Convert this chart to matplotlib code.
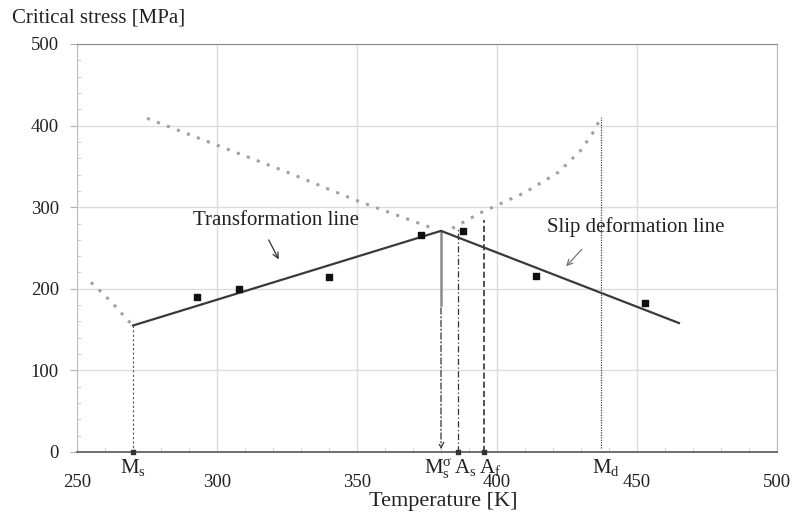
import numpy as np
import matplotlib.pyplot as plt
from matplotlib.transforms import blended_transform_factory

plt.rcParams['font.family'] = ['Liberation Serif', 'DejaVu Serif']
plt.rcParams['mathtext.fontset'] = 'custom'
plt.rcParams['mathtext.rm'] = 'Liberation Serif'
plt.rcParams['mathtext.it'] = 'Liberation Serif:italic'

# measured points
t_meas = [293, 308, 340, 373, 388, 414, 453]
s_meas = [190, 200, 215, 266, 271, 216, 183]

# fitted lines (transformation + slip)
t_line = [270, 380, 465]
s_line = [155, 271, 158]

# dotted guide curves
t_left = [255, 262, 268, 270]
s_left = [208, 185, 162, 155]
t_upper = [275, 300, 325, 350, 378]
s_upper = [409, 376, 343, 308, 273]
t_right = [384, 394, 410, 422, 430, 435, 437]
s_right = [274, 293, 318, 343, 370, 395, 410]

# characteristic temperatures
T_ms, T_msig, T_as, T_af, T_md = 270, 380, 386, 395.5, 437

FS = 15

fig = plt.figure(figsize=(7.94, 5.13), dpi=100)
ax = fig.add_axes([77/794, 61/513, 700/794, 408/513])

ax.set_xlim(250, 500)
ax.set_ylim(0, 500)
ax.set_xticks(np.arange(250, 501, 50))
ax.set_yticks(np.arange(0, 501, 100))
ax.set_xticks(np.arange(250, 501, 10), minor=True)
ax.set_yticks(np.arange(0, 501, 20), minor=True)
ax.grid(True, which='major', color='#dcdcdc', lw=1)
ax.tick_params(which='major', length=0, labelsize=13.5, pad=10, colors='#222222')
ax.tick_params(axis='y', which='major', length=5, color='#b0b0b0', pad=8)
ax.tick_params(axis='x', which='major', pad=16)
ax.tick_params(which='minor', direction='in', length=3, color='#c8c8c8')
for side in ['left', 'right']:
    ax.spines[side].set_color('#bdbdbd')
ax.spines['top'].set_color('#888888')
ax.spines['bottom'].set_color('#555555')
ax.spines['bottom'].set_linewidth(1.2)

# guide curves
dot = dict(color='#a0a0a0', ls=(0, (1, 2.5)), lw=2.2)
ax.plot(t_left, s_left, **dot)
ax.plot(t_upper, s_upper, **dot)
ax.plot(t_right, s_right, **dot)

# main lines and measurements
ax.plot(t_line, s_line, color='#3a3a3a', lw=1.6, zorder=4)
ax.scatter(t_meas, s_meas, marker='s', s=22, color='#111111', zorder=5)

# vertical markers
ax.plot([T_ms, T_ms], [0, s_line[0]], color='#555555', lw=0.8, ls=(0, (2, 2)))
ax.plot([T_msig, T_msig], [180, s_line[1]], color='#8a8a8a', lw=1.8)
ax.annotate('', xy=(T_msig, 0), xytext=(T_msig, 180),
            arrowprops=dict(arrowstyle='->', color='#333333', lw=0.9,
                            ls=(0, (5, 2, 1, 2))))
ax.plot([T_as, T_as], [0, 275], color='#333333', lw=0.9, ls=(0, (5, 2, 1, 2)))
ax.plot([T_af, T_af], [0, 284], color='#222222', lw=1.1, ls=(0, (4, 2)))
ax.plot([T_md, T_md], [5, 410], color='#444444', lw=0.9, ls=(0, (1, 1)))
ax.scatter([T_ms, T_as, T_af], [0, 0, 0], marker='s', s=8, color='#333333', zorder=5, clip_on=False)

# labels under the axis
trans = blended_transform_factory(ax.transData, ax.transAxes)
lab = dict(transform=trans, ha='center', va='top', fontsize=FS, color='#222222')
ax.text(T_ms, -0.012, r'$\mathregular{M_s}$', **lab)
ax.text(T_msig - 1, -0.012, r'$\mathregular{M_s^{\sigma}}$', **lab)
ax.text(T_as + 2.5, -0.012, r'$\mathregular{A_s}$', **lab)
ax.text(T_af + 2, -0.012, r'$\mathregular{A_f}$', **lab)
ax.text(T_md + 2, -0.012, r'$\mathregular{M_d}$', **lab)

# annotations
ax.text(321, 284, 'Transformation line', ha='center', va='center', fontsize=FS, color='#222222')
ax.annotate('', xy=(322.5, 233), xytext=(318, 263),
            arrowprops=dict(arrowstyle='->', color='#333333', lw=0.9))
ax.text(418, 276, 'Slip deformation line', ha='left', va='center', fontsize=FS, color='#222222')
ax.annotate('', xy=(424, 225), xytext=(431, 251),
            arrowprops=dict(arrowstyle='->', color='#777777', lw=0.9))

ax.set_xlabel('Temperature [K]', fontsize=16, color='#222222')
ax.xaxis.set_label_coords(0.523, -0.097)
fig.text(12/794, 1 - 18/513, 'Critical stress [MPa]', fontsize=FS, va='center', color='#222222')

fig.savefig('out.png', dpi=100)
